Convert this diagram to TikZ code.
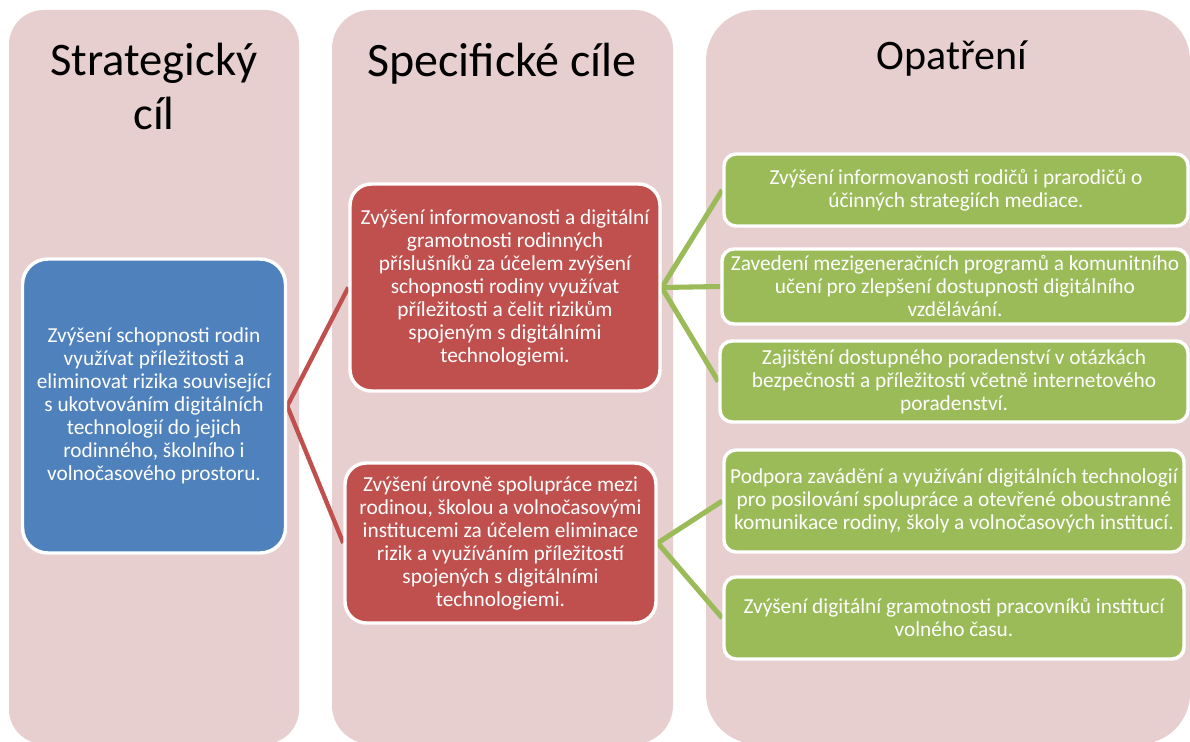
\documentclass[tikz,border=0pt]{standalone}
\usepackage{fontspec}
\setmainfont{Carlito}
\newdimen\pxu \pxu=0.75pt
\definecolor{colbg}{HTML}{E7CFD0}
\definecolor{cblue}{HTML}{4F81BD}
\definecolor{cred}{HTML}{C0504D}
\definecolor{cgreen}{HTML}{9BBB59}
\pgfdeclarelayer{bg}
\pgfdeclarelayer{lines}
\pgfsetlayers{bg,lines,main}
\tikzset{
  colbox/.style={fill=colbg, draw=none},
  title/.style={font=\fontsize{35pt}{41pt}\selectfont, text=black, inner sep=0pt, align=center},
  box/.style={draw=white, line width=2.6pt, text=white, inner sep=0pt, align=center,
    font=\fontsize{16pt}{17.25pt}\selectfont},
  bluebox/.style={box, fill=cblue, rounded corners=19pt},
  redbox/.style={box, fill=cred, rounded corners=16pt},
  greenbox/.style={box, fill=cgreen, rounded corners=9pt},
  redline/.style={draw=cred, line width=3.3pt},
  greenline/.style={draw=cgreen, line width=3.8pt},
}
\begin{document}
\begin{tikzpicture}[x=0.75pt, y=-0.75pt]
\useasboundingbox (0,0) rectangle (1190,742);
\begin{pgfonlayer}{bg}
\fill[white] (0,0) rectangle (1190,742);
\fill[colbox, rounded corners=26pt] (9,10) rectangle (299,744);
\fill[colbox, rounded corners=29pt] (332,10) rectangle (673,744);
\fill[colbox, rounded corners=38pt] (706,10) rectangle (1190,744);
\end{pgfonlayer}

\node[title, anchor=base] (t1) at (154,130) {Strategický\\cíl};
\node[title, anchor=base, font=\fontsize{36pt}{42pt}\selectfont] (t2) at (502,77) {Specifické cíle};
\node[title, anchor=base, font=\fontsize{31.5pt}{37pt}\selectfont] (t3) at (952,70) {Opatření};

\node[bluebox, minimum width=263\pxu, minimum height=294\pxu] (sc) at (154,406)
  {Zvýšení schopnosti rodin\\využívat příležitosti a\\eliminovat rizika související\\s ukotvováním digitálních\\technologií do jejich\\rodinného, školního i\\volnočasového prostoru.};

\node[redbox, minimum width=310\pxu, minimum height=207\pxu] (r1) at (505,287.5)
  {Zvýšení informovanosti a digitální\\gramotnosti rodinných\\příslušníků za účelem zvýšení\\schopnosti rodiny využívat\\příležitosti a čelit rizikům\\spojeným s digitálními\\technologiemi.};

\node[redbox, minimum width=311\pxu, minimum height=160\pxu] (r2) at (500.5,543)
  {Zvýšení úrovně spolupráce mezi\\rodinou, školou a volnočasovými\\institucemi za účelem eliminace\\rizik a využíváním příležitostí\\spojených s digitálními\\technologiemi.};

\node[greenbox, minimum width=464\pxu, minimum height=72\pxu] (g1) at (956,190)
  {Zvýšení informovanosti rodičů i prarodičů o\\účinných strategiích mediace.};
\node[greenbox, minimum width=466\pxu, minimum height=75\pxu] (g2) at (955,286.5)
  {Zavedení mezigeneračních programů a komunitního\\učení pro zlepšení dostupnosti digitálního\\vzdělávání.};
\node[greenbox, minimum width=468\pxu, minimum height=81\pxu] (g3) at (954,381.5)
  {Zajištění dostupného poradenství v otázkách\\bezpečnosti a příležitostí včetně internetového\\poradenství.};
\node[greenbox, minimum width=460\pxu, minimum height=102\pxu] (g4) at (954,501)
  {Podpora zavádění a využívání digitálních technologií\\pro posilování spolupráce a otevřené oboustranné\\komunikace rodiny, školy a volnočasových institucí.};
\node[greenbox, minimum width=460\pxu, minimum height=82\pxu] (g5) at (954,618)
  {Zvýšení digitální gramotnosti pracovníků institucí\\volného času.};

\begin{pgfonlayer}{lines}
\draw[redline] (r1.west) -- (sc.east) -- (r2.west);
\draw[greenline] (g1.west) -- (r1.east) -- (g3.west);
\draw[greenline] (r1.east) -- (g2.west);
\draw[greenline] (g4.west) -- (r2.east) -- (g5.west);
\end{pgfonlayer}
\end{tikzpicture}
\end{document}
